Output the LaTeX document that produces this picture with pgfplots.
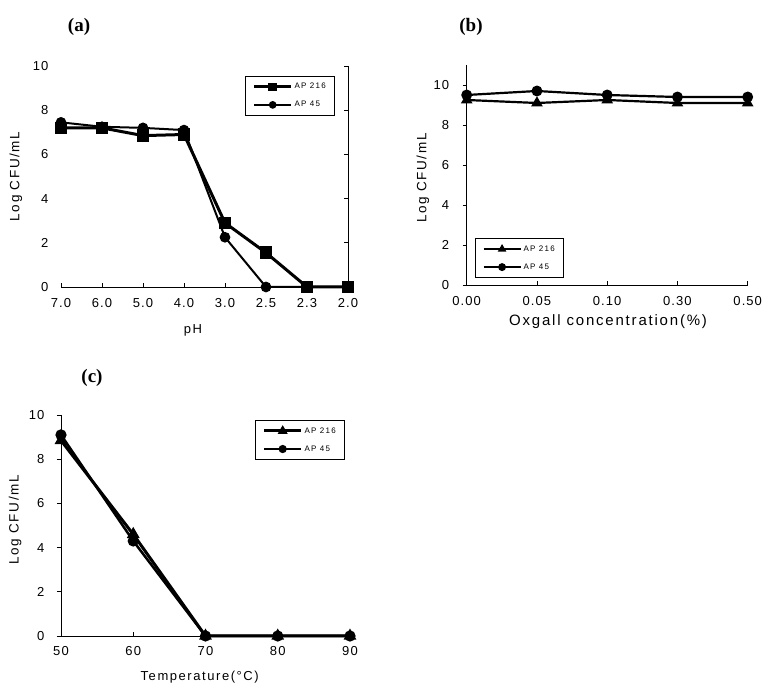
\documentclass[border=0pt]{standalone}
\usepackage{fontspec}
\setmainfont{Liberation Sans}
\newfontfamily\tickfont[LetterSpace=8]{Liberation Sans}
\newfontfamily\labfont[LetterSpace=12]{Liberation Sans}
\newfontfamily\legfont[LetterSpace=15]{Liberation Sans}
\newfontfamily\titlefont{Liberation Serif}
\usepackage{pgfplots}
\pgfplotsset{compat=1.18}

\pgfplotsset{
  base/.style={
    scale only axis,
    anchor=south west,
    clip=false,
    /pgf/number format/assume math mode=true,
    xticklabel style={font=\tickfont\fontsize{13}{15}\selectfont},
    yticklabel style={font=\tickfont\fontsize{13}{15}\selectfont},
    xlabel style={font=\labfont\fontsize{13}{15}\selectfont},
    ylabel style={font=\labfont\fontsize{13.5}{15}\selectfont},
    axis line style={draw=none},
    tick align=inside,
    major tick length=4pt,
    tick style={black, line width=0.7pt},
    legend cell align=left,
    legend style={font=\legfont\fontsize{8}{9}\selectfont, draw=black, line width=0.7pt,
      inner xsep=7pt, inner ysep=5pt, row sep=7pt},
    legend image code/.code={\draw[mark repeat=2,mark phase=2,##1, mark size=2.8pt] plot coordinates {(0cm,0cm) (0.65cm,0cm) (1.3cm,0cm)};},
  },
}

\pgfplotstableread{
x   a216  a45
0   7.20  7.45
1   7.20  7.25
2   6.85  7.20
3   6.90  7.10
4   2.90  2.25
5   1.55  0.00
6   0.00  0.00
7   0.00  0.00
}\phdata

\pgfplotstableread{
x   a216  a45
0   9.25  9.50
1   9.10  9.70
2   9.25  9.50
3   9.10  9.40
4   9.10  9.40
}\biledata

\pgfplotstableread{
x    a216  a45
50   8.85  9.10
60   4.60  4.30
70   0.00  0.00
80   0.00  0.00
90   0.00  0.00
}\tempdata

\begin{document}
\begin{tikzpicture}
\useasboundingbox (0,0) rectangle (769pt,691pt);
\node[font=\titlefont\bfseries\fontsize{19}{21}\selectfont] at (79pt,664pt) {(a)};
\node[font=\titlefont\bfseries\fontsize{19}{21}\selectfont] at (471pt,664pt) {(b)};
\node[font=\titlefont\bfseries\fontsize{19}{21}\selectfont] at (92pt,313pt) {(c)};

% ---------------- (a) ----------------
\begin{axis}[base,
  at={(61pt,404pt)}, width=287pt, height=221pt,
  xmin=0, xmax=7, ymin=0, ymax=10,
  xtick={0,1,2,3,4,5,6,7},
  xticklabels={7.0,6.0,5.0,4.0,3.0,2.5,2.3,2.0},
  ytick={0,2,4,6,8,10},
  xtick pos=bottom, ytick pos=right, yticklabel pos=left,
  xticklabel style={yshift=-8pt},
  yticklabel style={xshift=-9pt},
  xlabel={pH}, ylabel={Log CFU/mL},
  xlabel style={at={(axis description cs:0.46,-0.195)}, anchor=center},
  ylabel style={at={(axis description cs:-0.157,0.5)}, anchor=center},
  legend style={at={(0.955,0.955)}, anchor=north east},
]
\draw[line width=0.8pt] (rel axis cs:0,0) -- (rel axis cs:1,0) -- (rel axis cs:1,1);
\addplot[black, line width=3pt, mark=square*, mark size=4.8pt, mark options={solid}] table[x=x, y=a216] {\phdata};
\addlegendentry{AP 216}
\addplot[black, line width=2pt, mark=*, mark size=4.3pt] table[x=x, y=a45] {\phdata};
\addlegendentry{AP 45}
\end{axis}

% ---------------- (b) ----------------
\begin{axis}[base,
  at={(466.7pt,406pt)}, width=281pt, height=220pt,
  xmin=0, xmax=4, ymin=0, ymax=11,
  xtick={0,1,2,3,4},
  xticklabels={0.00,0.05,0.10,0.30,0.50},
  ytick={0,2,4,6,8,10},
  xtick pos=bottom, ytick pos=left,
  every major y tick/.append style={xshift=-4pt},
  xticklabel style={yshift=-8pt},
  yticklabel style={xshift=-14pt},
  xlabel={Oxgall concentration(\%)}, ylabel={Log CFU/mL},
  xlabel style={font=\labfont\fontsize{15}{17}\selectfont, at={(axis description cs:0.503,-0.168)}, anchor=center},
  ylabel style={at={(axis description cs:-0.156,0.486)}, anchor=center},
  legend style={at={(0.03,0.032)}, anchor=south west},
]
\draw[line width=0.8pt] (rel axis cs:0,1) -- (rel axis cs:0,0) -- (rel axis cs:1,0);
\addplot[black, line width=2.2pt, mark=triangle*, mark size=4.5pt] table[x=x, y=a216] {\biledata};
\addlegendentry{AP 216}
\addplot[black, line width=2.2pt, mark=*, mark size=4.3pt] table[x=x, y=a45] {\biledata};
\addlegendentry{AP 45}
\end{axis}

% ---------------- (c) ----------------
\begin{axis}[base,
  at={(61pt,55pt)}, width=289pt, height=221pt,
  xmin=50, xmax=90, ymin=0, ymax=10,
  xtick={50,60,70,80,90},
  ytick={0,2,4,6,8,10},
  xtick pos=bottom, ytick pos=left,
  every major y tick/.append style={xshift=-4pt},
  xticklabel style={yshift=-7pt},
  yticklabel style={xshift=-13pt},
  xlabel={Temperature(°C)}, ylabel={Log CFU/mL},
  xlabel style={at={(axis description cs:0.48,-0.186)}, anchor=center},
  ylabel style={at={(axis description cs:-0.159,0.525)}, anchor=center},
  legend style={at={(0.983,0.977)}, anchor=north east},
]
\draw[line width=0.8pt] (rel axis cs:0,1) -- (rel axis cs:0,0) -- (rel axis cs:1,0);
\addplot[black, line width=3pt, mark=triangle*, mark size=4.5pt] table[x=x, y=a216] {\tempdata};
\addlegendentry{AP 216}
\addplot[black, line width=2.5pt, mark=*, mark size=4.3pt] table[x=x, y=a45] {\tempdata};
\addlegendentry{AP 45}
\end{axis}
\end{tikzpicture}
\end{document}
